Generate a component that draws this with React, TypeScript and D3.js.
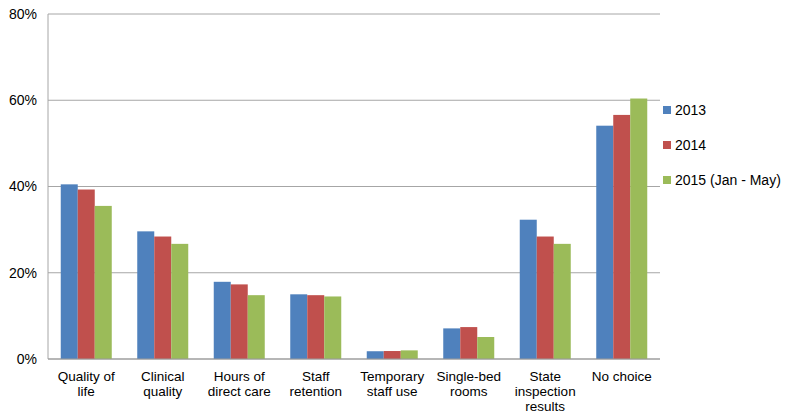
import React from "react";
import * as d3 from "d3";

const categories: string[][] = [
  ["Quality of", "life"],
  ["Clinical", "quality"],
  ["Hours of", "direct care"],
  ["Staff", "retention"],
  ["Temporary", "staff use"],
  ["Single-bed", "rooms"],
  ["State", "inspection", "results"],
  ["No choice"],
];
const seriesNames = ["2013", "2014", "2015 (Jan - May)"];
const colors = ["#4F81BD", "#C0504D", "#9BBB59"];
const values2013 = [40.5, 29.6, 17.9, 15.0, 1.8, 7.1, 32.3, 54.1];
const values2014 = [39.3, 28.4, 17.3, 14.8, 1.85, 7.4, 28.4, 56.6];
const values2015 = [35.5, 26.7, 14.8, 14.5, 2.0, 5.1, 26.7, 60.4];
const yTicks = [0, 20, 40, 60, 80];

const W = 786;
const H = 414;
const left = 48;
const right = 660;
const top = 14;
const bottom = 359;
const font = "Liberation Sans, Arial, sans-serif";

export default function App() {
  const series = [values2013, values2014, values2015];
  const x = d3
    .scaleBand<number>()
    .domain(categories.map((_, i) => i))
    .range([left, right])
    .padding(0);
  const xs = d3
    .scaleBand<number>()
    .domain(series.map((_, k) => k))
    .range([0, x.bandwidth()])
    .paddingInner(0)
    .paddingOuter(0.75);
  const y = d3.scaleLinear().domain([0, 80]).range([bottom, top]);
  const cx = (i: number) => (x(i) ?? 0) + x.bandwidth() / 2;

  return (
    <svg width={W} height={H} style={{ position: "absolute", left: 0, top: 0 }}>
      <rect x={0} y={0} width={W} height={H} fill="#fff" />
      {yTicks.map((t) => (
        <g key={t}>
          <line x1={left} x2={right} y1={y(t)} y2={y(t)} stroke="#A6A6A6" strokeWidth={1} />
          <text x={37} y={y(t)} dy="0.35em" textAnchor="end" fontFamily={font} fontSize={14} fill="#000">
            {t}%
          </text>
        </g>
      ))}
      <line x1={left} x2={left} y1={top} y2={bottom} stroke="#A6A6A6" strokeWidth={1} />
      {categories.map((_, i) =>
        series.map((s, k) => (
          <rect
            key={`${i}-${k}`}
            x={(x(i) ?? 0) + (xs(k) ?? 0)}
            y={y(s[i])}
            width={xs.bandwidth()}
            height={bottom - y(s[i])}
            fill={colors[k]}
          />
        ))
      )}
      <line x1={left} x2={right} y1={bottom} y2={bottom} stroke="#999" strokeWidth={1.2} />
      {categories.map((lines, i) => (
        <text key={i} textAnchor="middle" fontFamily={font} fontSize={13.5} fill="#000">
          {lines.map((l, j) => (
            <tspan key={j} x={cx(i)} y={381 + j * 15}>
              {l}
            </tspan>
          ))}
        </text>
      ))}
      {seriesNames.map((n, k) => (
        <g key={n}>
          <rect x={663} y={106 + k * 35} width={8} height={8} fill={colors[k]} />
          <text x={675} y={110 + k * 35} dy="0.35em" fontFamily={font} fontSize={14} fill="#000">
            {n}
          </text>
        </g>
      ))}
    </svg>
  );
}
